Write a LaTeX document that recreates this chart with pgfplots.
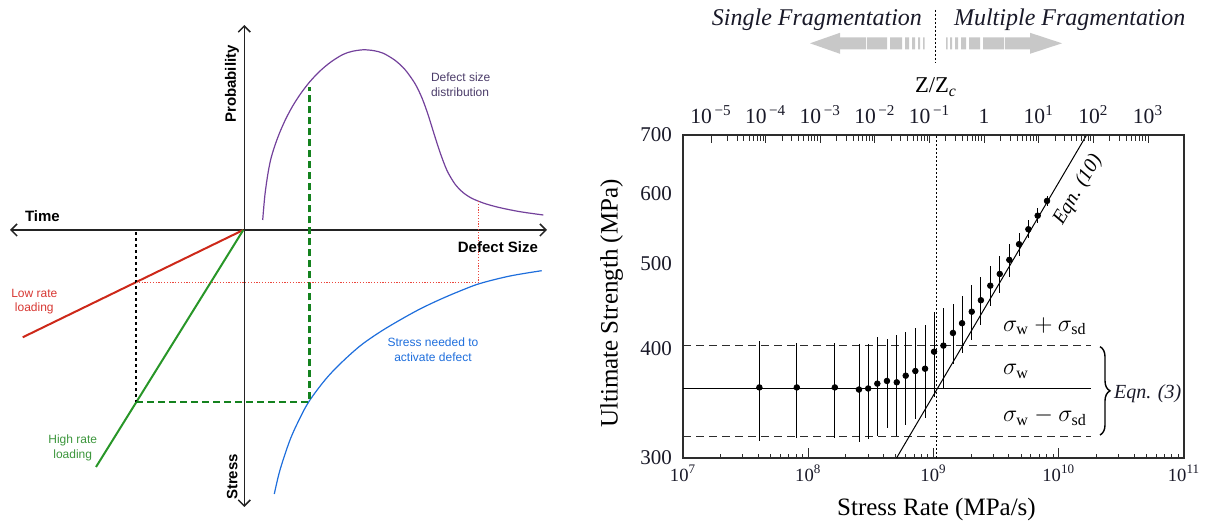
\documentclass[border=0pt]{standalone}
\usepackage{fontspec}
\setmainfont{Liberation Serif}
\newfontfamily\arial{Liberation Sans}
\usepackage{pgfplots}
\pgfplotsset{compat=1.18}
\usepackage{pgfplotstable}
\usetikzlibrary{arrows.meta,decorations.pathreplacing}

\definecolor{axisgray}{RGB}{35,35,35}
\definecolor{distpurple}{RGB}{115,65,155}
\definecolor{disttext}{RGB}{75,60,105}
\definecolor{stressblue}{RGB}{30,110,220}
\definecolor{lowred}{RGB}{205,40,25}
\definecolor{lowredtext}{RGB}{215,55,50}
\definecolor{highgreen}{RGB}{40,150,40}
\definecolor{highgreentext}{RGB}{60,150,60}
\definecolor{dashgreen}{RGB}{20,130,30}
\definecolor{dotred}{RGB}{235,70,60}
\definecolor{arrowgray}{RGB}{200,200,200}
\definecolor{inkgray}{RGB}{45,45,45}
\definecolor{ink}{RGB}{25,25,40}

% stress rate (MPa/s), ultimate strength (MPa), standard deviation (MPa)
\pgfplotstableread{
rate    strength err
4.07e7  361.0    47
8.1e7   361.0    45
1.63e8  361.0    45
2.54e8  359.0    46
3.01e8  360.0    45
3.56e8  364.6    47
4.25e8  367.2    43
5.09e8  365.9    48
6.0e8   372.3    45
7.16e8  376.9    45
8.56e8  379.2    46
1.01e9  396.5    44
1.2e9   402.8    42
1.43e9  416.4    33
1.69e9  427.2    32
2.02e9  440.3    32
2.39e9  453.7    28
2.84e9  471.4    25
3.38e9  486.1    24
4.03e9  504.4    22
4.82e9  525.6    16
5.72e9  546.6    13
6.79e9  566.4    11
8.06e9  588.7    7
}\strengthdata

\begin{document}
\begin{tikzpicture}
\useasboundingbox (0,0) rectangle (608.5pt,262pt);

% ---------- canvas: one unit = one pixel of a 1217 x 524 frame ----------
\begin{axis}[
  at={(0pt,0pt)}, anchor=south west, scale only axis,
  width=608.5pt, height=262pt,
  xmin=0, xmax=1217, ymin=0, ymax=524,
  hide axis, clip=false]

% schematic: axes
\draw[axisgray, line width=0.75pt,
  {Straight Barb[length=3pt,width=6pt]}-{Straight Barb[length=3pt,width=6pt]}]
  (10,294) -- (547,294);
\draw[axisgray, line width=0.75pt,
  {Straight Barb[length=3pt,width=6pt]}-{Straight Barb[length=3pt,width=6pt]}]
  (244.3,499) -- (244.3,17);

% defect size distribution
\addplot[distpurple, line width=0.6pt, smooth, tension=0.5, mark=none] coordinates {
  (262.7,304) (264.8,328) (267.7,349) (270.7,364.5) (274.7,377.9) (279.7,391.4)
  (285.7,404.9) (292.7,418) (300.7,430.4) (309.7,442.1) (319.7,452.7)
  (330.7,461.9) (342.7,469.4) (352,472.6) (363.3,474.2) (374,473.3)
  (383.3,470.7) (395,463.7) (405,454.4) (415,440.4) (422,426) (428,409.5)
  (434,390.3) (440,371.7) (447,353.5) (455,339.9) (463,331.5) (472,325.6)
  (485,320.4) (500,316.3) (520,312.3) (543.3,309)};

% stress needed to activate a defect
\addplot[stressblue, line width=0.6pt, smooth, tension=0.55, mark=none] coordinates {
  (274.3,30) (280,54) (290,84) (300,106) (309.3,123) (325,144) (340,160)
  (360,178) (380,192) (400,204) (420,215) (440,224.5) (460,233) (480,240.5)
  (510,248) (541.7,253.3)};

% loading lines
\addplot[lowred, line width=1pt, mark=none] coordinates {(243.3,294) (22.7,186.7)};
\addplot[highgreen, line width=1pt, mark=none] coordinates {(243.3,294) (96,57)};

% construction lines
\addplot[black, line width=1pt, dash pattern=on 1.6pt off 1.4pt, mark=none]
  coordinates {(136,292) (136,122)};
\addplot[dashgreen, line width=1.3pt, dash pattern=on 3.5pt off 2pt, mark=none]
  coordinates {(136,122) (309.3,122) (309.3,437)};
\addplot[dotred, line width=0.4pt, dash pattern=on 0.6pt off 0.8pt, mark=none]
  coordinates {(136,241.3) (478.3,241.3) (478.3,323.3)};

% schematic labels
\node[font=\arial\bfseries\fontsize{7.5}{9}\selectfont, anchor=west] at (18,308) {Time};
\node[font=\arial\bfseries\fontsize{7.5}{9}\selectfont, rotate=90] at (232,440) {Probability};
\node[font=\arial\bfseries\fontsize{7.5}{9}\selectfont, anchor=east] at (545,277) {Defect Size};
\node[font=\arial\bfseries\fontsize{7.5}{9}\selectfont, rotate=90] at (232.3,47) {Stress};
\node[font=\arial\fontsize{6}{7.2}\selectfont, text=disttext, anchor=west, align=left]
  at (424,439.3) {Defect size\\distribution};
\node[font=\arial\fontsize{6}{7.2}\selectfont, text=stressblue, align=center]
  at (433,174.2) {Stress needed to\\activate defect};
\node[font=\arial\fontsize{6}{7.2}\selectfont, text=lowredtext, align=center]
  at (34.3,222.5) {Low rate\\loading};
\node[font=\arial\fontsize{6}{7.2}\selectfont, text=highgreentext, align=center]
  at (72.7,76) {High rate\\loading};

% fragmentation regimes
\node[font=\itshape\fontsize{12}{14}\selectfont, text=ink, anchor=east] at (929,504) {Single Fragmentation};
\node[font=\itshape\fontsize{12}{14}\selectfont, text=ink, anchor=west] at (947,504) {Multiple Fragmentation};
\fill[arrowgray] (810,480.7) -- (840,491.2) -- (840,470.2) -- cycle;
\fill[arrowgray]
  (839,474.7) rectangle (866,486.7)
  (867,474.7) rectangle (887,486.7)
  (890,474.7) rectangle (902,486.7)
  (905,474.7) rectangle (909,486.7)
  (912,474.7) rectangle (915,486.7)
  (918,474.7) rectangle (920,486.7)
  (923,474.7) rectangle (924.5,486.7)
  (946,474.7) rectangle (947.5,486.7)
  (950,474.7) rectangle (952,486.7)
  (955,474.7) rectangle (958,486.7)
  (961,474.7) rectangle (966,486.7)
  (969,474.7) rectangle (980,486.7)
  (983,474.7) rectangle (1004,486.7)
  (1005,474.7) rectangle (1031,486.7);
\fill[arrowgray] (1062,480.7) -- (1030,491.2) -- (1030,470.2) -- cycle;
\draw[black, line width=0.6pt, dash pattern=on 0.8pt off 1.2pt] (935.5,514) -- (935.5,461);

% axis titles of the strength plot
\node[font=\fontsize{11.3}{13}\selectfont] at (936,437) {Z/Z\textsubscript{\textit{c}}};
\node[font=\fontsize{12.5}{14}\selectfont, rotate=90] at (611.7,220.5) {Ultimate Strength (MPa)};
\node[font=\fontsize{12.5}{14}\selectfont] at (936.5,15) {Stress Rate (MPa/s)};

% annotations
\node[font=\fontsize{12}{14}\selectfont, anchor=west] at (996,198)
  {$\sigma_{\mathrm{w}} + \sigma_{\mathrm{sd}}$};
\node[font=\fontsize{12}{14}\selectfont, anchor=west] at (996,152.3)
  {$\sigma_{\mathrm{w}}$};
\node[font=\fontsize{12}{14}\selectfont, anchor=west] at (996,107.3)
  {$\sigma_{\mathrm{w}} - \sigma_{\mathrm{sd}}$};
\draw[black, line width=0.7pt, decorate, decoration={brace, amplitude=5pt}]
  (1100,177.3) -- (1100,89);
\node[font=\itshape\fontsize{10}{12}\selectfont, text=ink, anchor=west] at (1107,130) {Eqn. (3)};
\node[font=\itshape\fontsize{10}{12}\selectfont, rotate=59.5] at (1078,334) {Eqn. (10)};
\end{axis}

% ---------- ultimate strength vs stress rate ----------
\begin{axis}[
  at={(341.5pt,33pt)}, anchor=south west, scale only axis,
  width=250.5pt, height=161.5pt,
  xmode=log, ymode=log,
  xmin=1e7, xmax=1e11, ymin=300, ymax=700,
  xtick={1e7,1e8,1e9,1e10,1e11},
  xticklabels={10\textsuperscript{7},10\textsuperscript{8},10\textsuperscript{9},
               10\textsuperscript{10},10\textsuperscript{11}},
  minor xtick={2e7,3e7,4e7,5e7,6e7,7e7,8e7,9e7,
               2e8,3e8,4e8,5e8,6e8,7e8,8e8,9e8,
               2e9,3e9,4e9,5e9,6e9,7e9,8e9,9e9,
               2e10,3e10,4e10,5e10,6e10,7e10,8e10,9e10},
  ytick={300,400,500,600,700},
  yticklabels={300,400,500,600,700},
  xtick pos=left, ytick pos=left, tick align=inside,
  major tick length=5pt, minor tick length=2pt,
  ytick style={draw=none},
  tick style={inkgray, line width=0.5pt},
  xticklabel style={font=\fontsize{9.3}{10}\selectfont, text=ink},
  yticklabel style={font=\fontsize{10.5}{12}\selectfont, text=ink, xshift=-2pt},
  axis line style={inkgray, line width=0.6pt},
  clip=false]

% weakest-link mean and one standard deviation band
\addplot[black, line width=0.5pt, mark=none] coordinates {(1e7,360) (1.81e10,360)};
\addplot[inkgray, line width=0.5pt, dash pattern=on 4pt off 2.5pt, mark=none]
  coordinates {(1e7,403) (1.81e10,403)};
\addplot[inkgray, line width=0.5pt, dash pattern=on 4pt off 2.5pt, mark=none]
  coordinates {(1e7,317) (1.81e10,317)};

% rate-controlled strength
\addplot[black, line width=0.5pt, mark=none] coordinates {(5.07e8,300) (1.67e10,700)};

% critical rate
\addplot[black, line width=0.6pt, dash pattern=on 0.8pt off 1.2pt, mark=none]
  coordinates {(1.05e9,300) (1.05e9,700)};

% measurements
\addplot[black, only marks, mark=*, mark size=1.4pt,
  error bars/.cd, y dir=both, y explicit, error mark=none,
  error bar style={line width=0.45pt}]
  table[x=rate, y=strength, y error=err] {\strengthdata};
\end{axis}

% ---------- normalised rate on the upper edge ----------
\begin{axis}[
  at={(341.5pt,33pt)}, anchor=south west, scale only axis,
  width=250.5pt, height=161.5pt,
  xmode=log, xmin=3.07e-6, xmax=4560, ymin=0, ymax=1,
  axis x line*=top, axis y line=none,
  xtick={1e-5,1e-4,1e-3,1e-2,1e-1,1,1e1,1e2,1e3},
  xticklabels={10\textsuperscript{\,−5},10\textsuperscript{\,−4},10\textsuperscript{\,−3},
               10\textsuperscript{\,−2},10\textsuperscript{\,−1},1,
               10\textsuperscript{1},10\textsuperscript{2},10\textsuperscript{3}},
  tick align=inside, major tick length=4pt,
  tick style={inkgray, line width=0.5pt},
  xticklabel style={font=\fontsize{10.8}{12}\selectfont, text=ink, yshift=2pt},
  axis line style={inkgray, line width=0.6pt}]
\end{axis}
\end{tikzpicture}
\end{document}
